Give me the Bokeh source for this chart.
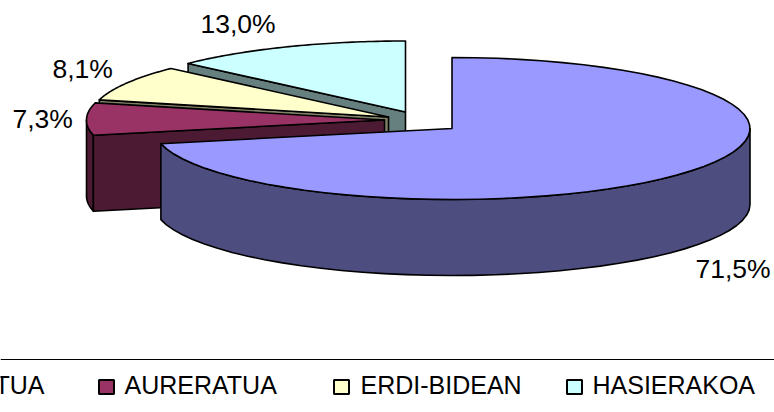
import numpy as np
from bokeh.plotting import figure
from bokeh.models import Range1d
from bokeh.core.properties import value
from bokeh.embed import file_html
from bokeh.resources import INLINE

legend_texts = ["TUA", "AURERATUA", "ERDI-BIDEAN", "HASIERAKOA"]
shares = [71.5, 7.3, 8.1, 13.0]
labels = ["71,5%", "7,3%", "8,1%", "13,0%"]
top_colors = ["#9999FF", "#993366", "#FFFFCC", "#CCFFFF"]
side_colors = ["#4D4D80", "#4D1A33", "#808066", "#668080"]

W, H = 774, 404
RX, RY, DEPTH = 298, 71, 76
apexes = [(451.5, 128), (384, 119.5), (388, 116.5), (405, 111.5)]
label_pos = [(695, 268), (12, 118), (52, 68), (200, 23)]
swatch_x = [None, 98, 333, 566]
text_x = [44, 124, 360, 592]

p = figure(width=W, height=H, x_range=Range1d(0, W), y_range=Range1d(H, 0),
           output_backend="svg", toolbar_location=None, min_border=0,
           x_axis_location=None, y_axis_location=None, outline_line_color=None)
p.grid.visible = False


def rim(c, a0, a1, n=40):
    t = np.radians(np.linspace(a0, a1, n))
    return c[0] + RX * np.sin(t), c[1] - RY * np.cos(t)


def draw(xs, ys, color):
    p.patch(list(xs), list(ys), fill_color=color, line_color="black", line_width=1.6, line_join="round")


cum = np.concatenate([[0], np.cumsum(shares)]) / sum(shares) * 360
for i in [3, 2, 1, 0]:
    c = apexes[i]
    a0, a1 = cum[i], cum[i + 1]
    dark = side_colors[i]
    f0, f1 = max(a0, 90), min(a1, 270)
    if f1 > f0:
        rx, ry = rim(c, f0, f1)
        draw(np.r_[rx, rx[::-1]], np.r_[ry, ry[::-1] + DEPTH], dark)
    if i > 0:
        ex, ey = rim(c, a0, a0, 1)
        draw([c[0], ex[0], ex[0], c[0]], [c[1], ey[0], ey[0] + DEPTH, c[1] + DEPTH], dark)
    rx, ry = rim(c, a0, a1, 60)
    draw(np.r_[c[0], rx], np.r_[c[1], ry], top_colors[i])

for (x, y), t in zip(label_pos, labels):
    p.text([x], [y], text=[t], text_font=value("Liberation Sans"), text_font_size="26.5px",
           text_color="black", text_baseline="middle", text_align="left")

p.segment([0], [359], [W], [359], line_color="black", line_width=1)
for i, txt in enumerate(legend_texts):
    if swatch_x[i] is not None:
        p.rect([swatch_x[i] + 8], [386.5], width=15, height=14, fill_color=top_colors[i],
               line_color="black", line_width=2)
    p.text([text_x[i]], [384], text=[txt], text_font=value("Liberation Sans"), text_font_size="25px",
           text_color="black", text_baseline="middle", text_align="right" if i == 0 else "left")

open("out.html", "w").write(file_html(p, INLINE))
